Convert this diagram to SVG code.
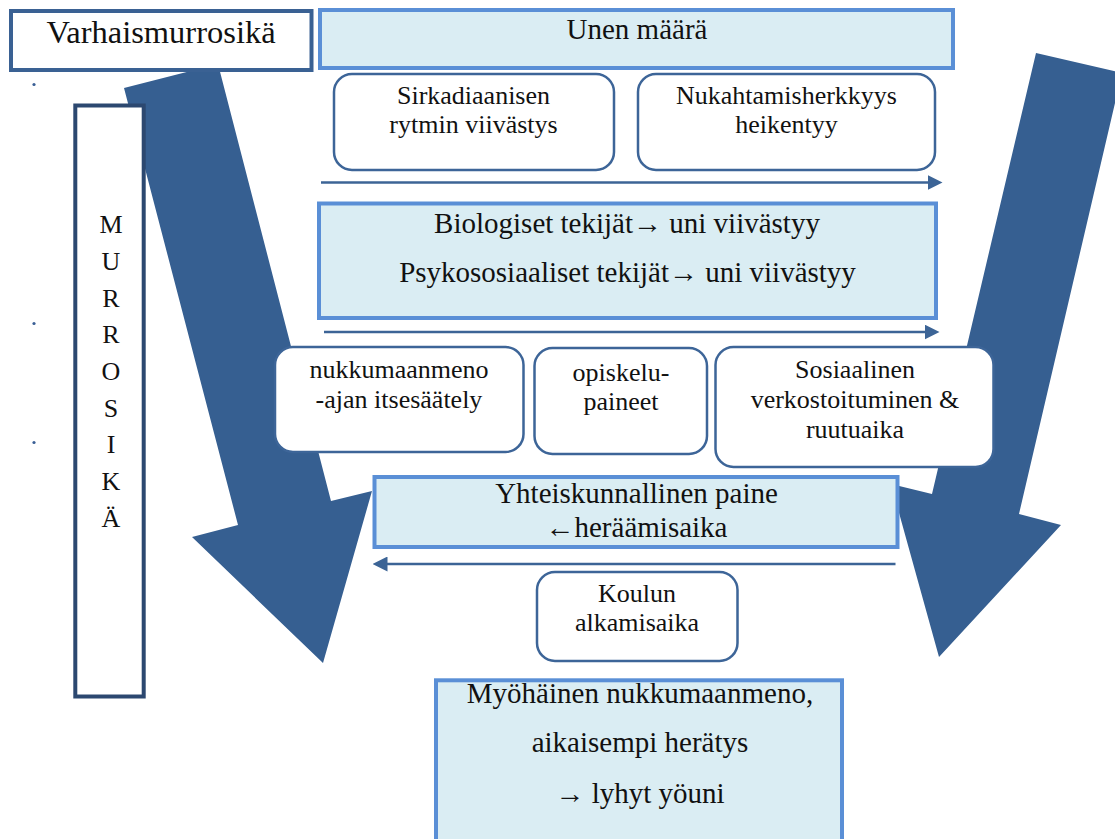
<svg xmlns="http://www.w3.org/2000/svg" width="1115" height="839" viewBox="0 0 1115 839" font-family="'Liberation Serif', 'DejaVu Serif', 'Times New Roman', serif">
<style>
  text { font-family: 'Liberation Serif', 'DejaVu Serif', 'Times New Roman', serif; fill: #111; text-anchor: middle; }
  .big { fill: #365f91; }
  .lb { fill: #daedf3; stroke: #5a8fd6; stroke-width: 4; }
  .rb { fill: #ffffff; stroke: #3d6598; stroke-width: 2.5; }
  .conn { stroke: #3c6496; stroke-width: 2.5; fill: none; }
  .s26 { font-size: 26px; }
  .s29 { font-size: 29px; }
</style>
<defs>
  <marker id="ah" viewBox="0 0 15 15" refX="5" refY="7.5" markerWidth="15" markerHeight="15" markerUnits="userSpaceOnUse" orient="auto">
    <path d="M0,0 L15,7.5 L0,15 z" fill="#3c6496"/>
  </marker>
</defs>
<rect x="0" y="0" width="1115" height="839" fill="#ffffff"/>

<g id="bigArrows">
  <polygon id="leftBigArrow" class="big" points="124,88 218,64 331,501 372,491 323,663 192,537 238,525"/>
  <polygon id="rightBigArrow" class="big" points="1036,53 1122,73 1019,514 1061,525 939,657 891,484 932,494"/>
</g>

<g id="dots" fill="#3a5f95">
  <circle cx="34" cy="84.5" r="1.6"/>
  <circle cx="34" cy="323.5" r="1.6"/>
  <circle cx="34" cy="442.5" r="1.6"/>
</g>

<g id="connectors">
  <line class="conn" x1="321" y1="182.5" x2="932.5" y2="182.5" marker-end="url(#ah)"/>
  <line class="conn" x1="324" y1="332" x2="929.5" y2="332" marker-end="url(#ah)"/>
  <line class="conn" x1="895.5" y1="564" x2="382.5" y2="564" marker-end="url(#ah)"/>
</g>

<g id="varhaismurrosika">
  <rect x="11" y="11" width="300.5" height="59" fill="#ffffff" stroke="#3a6193" stroke-width="4"/>
  <text x="161" y="43" style="font-size:32.5px">Varhaismurrosikä</text>
</g>

<g id="murrosika">
  <rect x="75.3" y="105.5" width="68.4" height="591" fill="#ffffff" stroke="#2c4870" stroke-width="4"/>
  <text class="s26" x="111" y="233.3">M</text>
  <text class="s26" x="111" y="270">U</text>
  <text class="s26" x="111" y="306.7">R</text>
  <text class="s26" x="111" y="343.3">R</text>
  <text class="s26" x="111" y="380">O</text>
  <text class="s26" x="111" y="416.7">S</text>
  <text class="s26" x="111" y="453.3">I</text>
  <text class="s26" x="111" y="490">K</text>
  <text class="s26" x="111" y="526.7">Ä</text>
</g>

<g id="unenMaara">
  <rect class="lb" x="320" y="10" width="633" height="58"/>
  <text class="s29" x="637" y="38.5">Unen määrä</text>
</g>

<g id="sirkadiaaninen">
  <rect class="rb" x="334" y="74" width="280" height="96" rx="18"/>
  <text class="s26" x="473.5" y="104">Sirkadiaanisen</text>
  <text class="s26" x="473.5" y="132.7">rytmin viivästys</text>
</g>

<g id="nukahtamisherkkyys">
  <rect class="rb" x="638" y="74" width="297" height="96" rx="18"/>
  <text class="s26" x="786.5" y="104">Nukahtamisherkkyys</text>
  <text class="s26" x="786.5" y="132.7">heikentyy</text>
</g>

<g id="tekijat">
  <rect class="lb" x="319" y="203.5" width="617" height="114.5"/>
  <text class="s29" x="627" y="232.7">Biologiset tekijät→ uni viivästyy</text>
  <text class="s29" x="627.5" y="281.7">Psykososiaaliset tekijät→ uni viivästyy</text>
</g>

<g id="nukkumaanmeno">
  <rect class="rb" x="275" y="347" width="248.5" height="105" rx="18"/>
  <text class="s26" x="399" y="378.3">nukkumaanmeno</text>
  <text class="s26" x="399" y="407.7">-ajan itsesäätely</text>
</g>

<g id="opiskelu">
  <rect class="rb" x="534.5" y="348" width="172.5" height="106" rx="18"/>
  <text class="s26" x="621" y="381">opiskelu-</text>
  <text class="s26" x="621" y="410">paineet</text>
</g>

<g id="sosiaalinen">
  <rect class="rb" x="715.5" y="347" width="278" height="120" rx="18"/>
  <text class="s26" x="855" y="378.3">Sosiaalinen</text>
  <text class="s26" x="855" y="408.3">verkostoituminen &amp;</text>
  <text class="s26" x="855" y="438.3">ruutuaika</text>
</g>

<g id="yhteiskunnallinen">
  <rect class="lb" x="374.5" y="477" width="523" height="70"/>
  <text class="s29" x="636.5" y="503.3">Yhteiskunnallinen paine</text>
  <text class="s29" x="636.5" y="536.7">←heräämisaika</text>
</g>

<g id="koulun">
  <rect class="rb" x="537" y="572" width="200.5" height="89" rx="18"/>
  <text class="s26" x="637" y="602.3">Koulun</text>
  <text class="s26" x="637" y="630.7">alkamisaika</text>
</g>

<g id="myohainen">
  <rect class="lb" x="436" y="680.3" width="406" height="170"/>
  <text class="s29" x="640" y="703.3">Myöhäinen nukkumaanmeno,</text>
  <text class="s29" x="640" y="752.3">aikaisempi herätys</text>
  <text class="s29" x="640" y="802.7">→ lyhyt yöuni</text>
</g>
</svg>
